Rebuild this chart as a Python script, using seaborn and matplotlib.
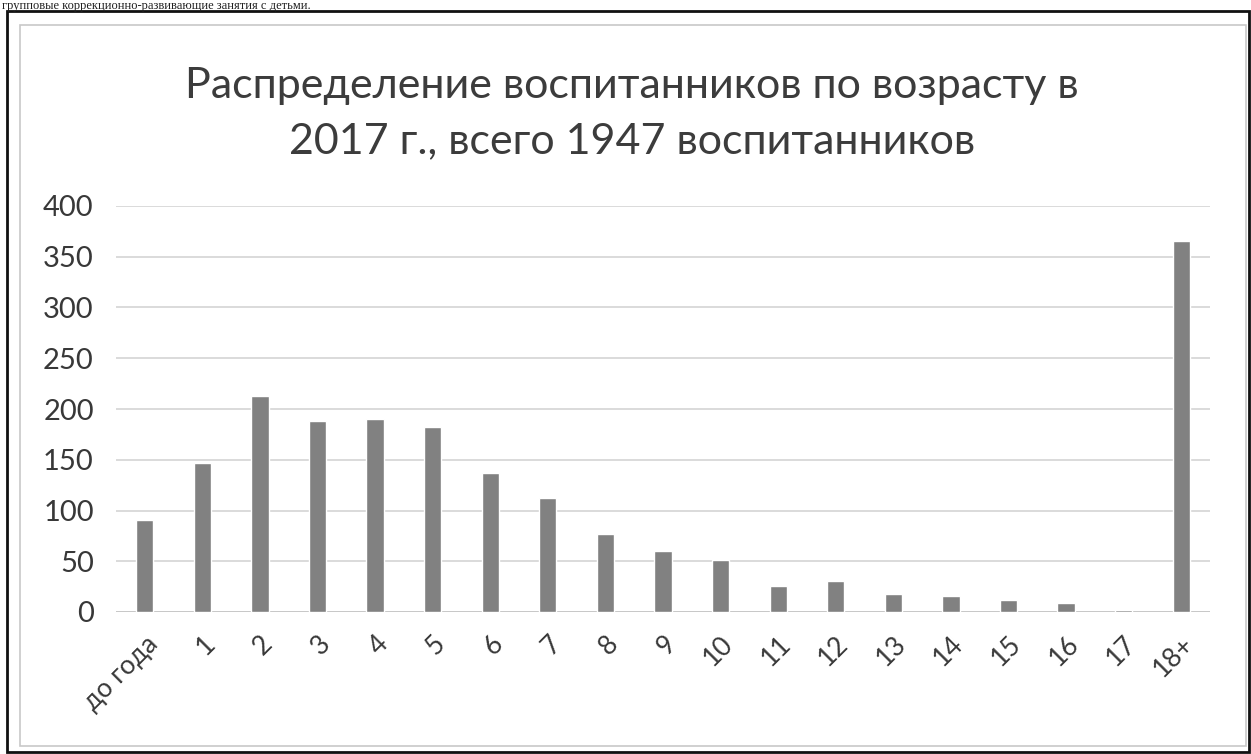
import matplotlib
matplotlib.use("Agg")
import matplotlib.pyplot as plt
from matplotlib.patches import Rectangle
import pandas as pd
import seaborn as sns

# Data
ages = ['до года', '1', '2', '3', '4', '5', '6', '7', '8', '9',
        '10', '11', '12', '13', '14', '15', '16', '17', '18+']
counts = [91, 147, 213, 188, 190, 182, 137, 112, 77, 60,
          51, 26, 31, 18, 16, 12, 9, 2, 366]
yticks = [0, 50, 100, 150, 200, 250, 300, 350, 400]

title_lines = ['Распределение воспитанников по возрасту в',
               '2017 г., всего 1947 воспитанников']
top_text = 'групповые коррекционно-развивающие занятия с детьми.'

df = pd.DataFrame({'age': ages, 'count': counts})

sns.set_style('white')
plt.rcParams['font.family'] = ['Lato', 'DejaVu Sans']

W, H = 1251, 754
fig = plt.figure(figsize=(W / 100, H / 100), dpi=100)

# Plot area in pixel coords of the reference
left, right, top, bottom = 116, 1210, 206, 612
ax = fig.add_axes([left / W, 1 - bottom / H, (right - left) / W, (bottom - top) / H])

sns.barplot(data=df, x='age', y='count', color='#818181', width=0.3,
            saturation=1, ax=ax, zorder=3)

ax.set_ylim(0, 400)
ax.set_yticks(yticks)
ax.set_yticklabels([str(v) for v in yticks], fontsize=21, color='#383838')
ax.set_xticks(range(len(ages)))
ax.set_xticklabels(ages, rotation=45, ha='right', rotation_mode='anchor',
                   fontsize=19, color='#383838')
ax.tick_params(axis='both', length=0)
ax.tick_params(axis='y', pad=16)
ax.tick_params(axis='x', pad=14)
ax.set_xlabel('')
ax.set_ylabel('')
ax.grid(axis='y', color='#d4d4d4', linewidth=1.2, zorder=0)
for s in ax.spines.values():
    s.set_visible(False)
ax.axhline(0, color='#c8c8c8', linewidth=1.4, zorder=2)

# Title
fig.text(632 / W, 1 - 86 / H, title_lines[0], ha='center', va='center',
         fontsize=31, color='#3c3c3c')
fig.text(632 / W, 1 - 141 / H, title_lines[1], ha='center', va='center',
         fontsize=31, color='#3c3c3c')

# Line of document text above the chart (cut off in the scan)
fig.text(2 / W, 1 - 9 / H, top_text, ha='left', va='baseline',
         fontsize=9, family='Liberation Serif', color='#202020')

# Frames: scanned page border and chart border
fig.patches.append(Rectangle((7 / W, 1 - 752 / H), (1249 - 7) / W, (752 - 11) / H,
                             transform=fig.transFigure, fill=False,
                             edgecolor='#111111', linewidth=2))
fig.patches.append(Rectangle((20 / W, 1 - 746 / H), (1246 - 20) / W, (746 - 25) / H,
                             transform=fig.transFigure, fill=False,
                             edgecolor='#c8c8c8', linewidth=1.2))

fig.savefig('out.png', dpi=100)
